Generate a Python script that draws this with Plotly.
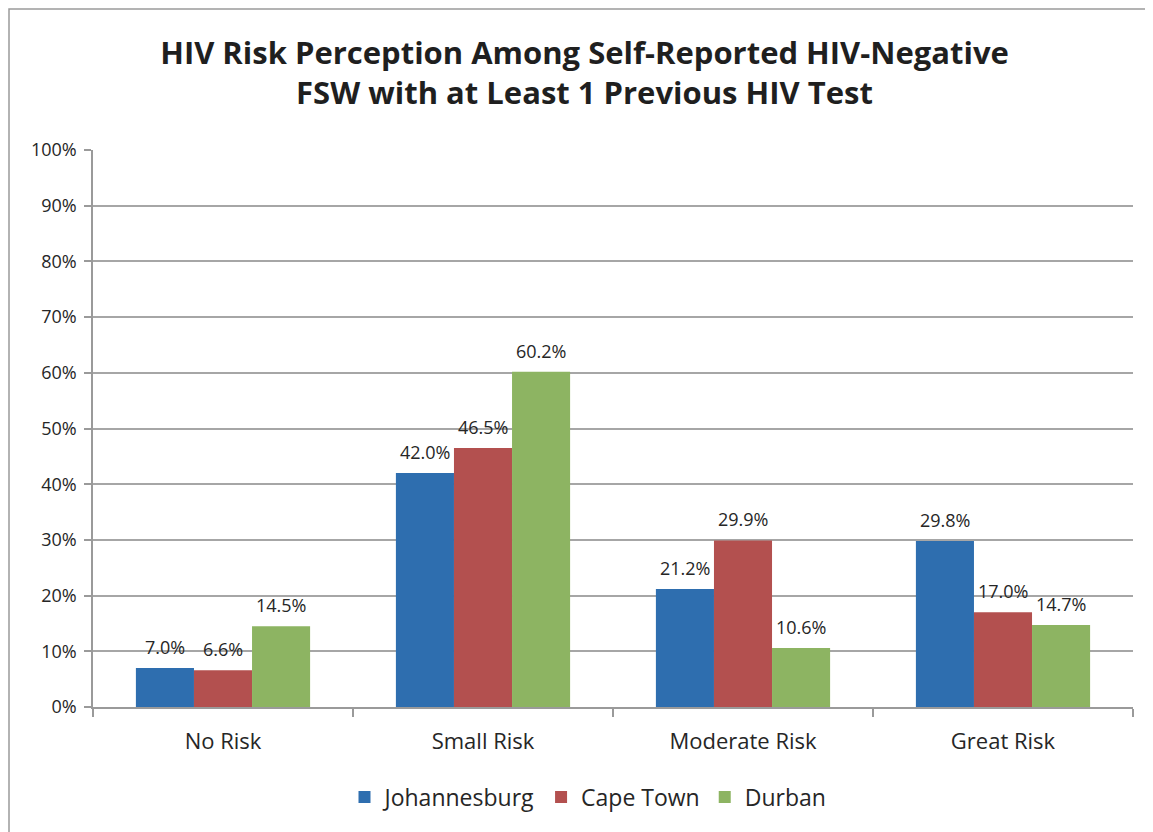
import plotly.graph_objects as go

categories = ["No Risk", "Small Risk", "Moderate Risk", "Great Risk"]
johannesburg = [7.0, 42.0, 21.2, 29.8]
cape_town = [6.6, 46.5, 29.9, 17.0]
durban = [14.5, 60.2, 10.6, 14.7]
y_ticks = [0, 10, 20, 30, 40, 50, 60, 70, 80, 90, 100]

SERIES = [
    ("Johannesburg", johannesburg, "#2E6EAF"),
    ("Cape Town", cape_town, "#B3504F"),
    ("Durban", durban, "#8DB462"),
]

# page has an 8px body margin, so positions are shifted up/left by 8
OFF = 8
W, H = 1153, 832
L, T = 93 - OFF, 150 - OFF
pw, ph = 1040, 557
R, B = W - L - pw, H - T - ph
BAR_PX = 58  # width of one bar in pixels


def px_x(px):
    return (px - OFF - L) / pw


def px_y(py):
    return (T + ph - (py - OFF)) / ph


fig = go.Figure()
for i, (name, vals, color) in enumerate(SERIES):
    fig.add_trace(go.Bar(
        x=categories, y=vals, name=name,
        marker=dict(color=color, line=dict(width=0)),
    ))
    # value labels, lifted a bit above the bars like the Excel original
    for cat, v in zip(categories, vals):
        fig.add_annotation(
            x=cat, y=v, xref="x", yref="y",
            text=f"{v:.1f}%", showarrow=False,
            xshift=(i - 1) * BAR_PX, yshift=7, yanchor="bottom",
            font=dict(size=18, color="#262626"),
        )

fig.add_shape(
    type="rect", xref="paper", yref="paper",
    x0=px_x(9), x1=px_x(1150), y0=px_y(850), y1=px_y(9),
    line=dict(color="#9A9A9A", width=1.5), layer="below",
)

fig.update_layout(
    width=W, height=H,
    paper_bgcolor="white", plot_bgcolor="white",
    font=dict(family="Open Sans", color="#262626"),
    margin=dict(l=L, r=R, t=T, b=B),
    title=dict(
        text="<b>HIV Risk Perception Among Self-Reported HIV-Negative<br>FSW with at Least 1 Previous HIV Test</b>",
        font=dict(size=31, color="#1F1F1F", family="Open Sans"),
        x=0.5, xanchor="center",
        y=1 - (64 - OFF) / H, yanchor="middle",
    ),
    barmode="group", bargap=0.33, bargroupgap=0,
    showlegend=True,
    legend=dict(
        orientation="h", x=px_x(588), xanchor="center",
        y=px_y(797), yanchor="middle",
        font=dict(size=23, color="#262626"),
        itemwidth=30, traceorder="normal",
    ),
    xaxis=dict(
        showline=True, linecolor="#9A9A9A", linewidth=1.5,
        ticks="outside", tickson="boundaries", ticklen=8,
        tickcolor="#9A9A9A", tickwidth=1.5, ticklabelstandoff=14,
        tickfont=dict(size=22, color="#262626"),
    ),
    yaxis=dict(
        range=[0, 100], tickvals=y_ticks,
        ticktext=[f"{v}%" for v in y_ticks],
        showgrid=True, gridcolor="#A6A6A6", gridwidth=1.5,
        showline=True, linecolor="#9A9A9A", linewidth=1.5,
        ticks="outside", ticklen=7, tickcolor="#9A9A9A", tickwidth=1.5,
        ticklabelstandoff=4,
        tickfont=dict(size=18, color="#262626"),
        zeroline=False,
    ),
)

fig.write_html("out.html")
